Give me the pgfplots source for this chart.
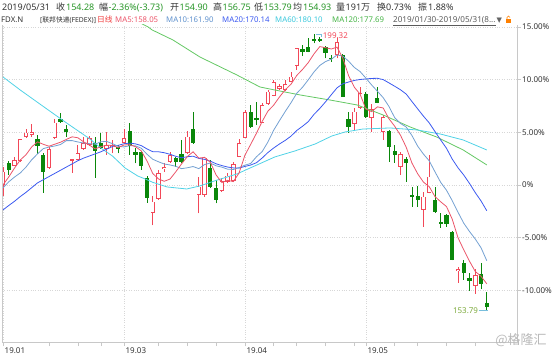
\documentclass[border=0pt]{standalone}
\usepackage{fontspec}
\setmainfont{Noto Sans}
\newfontfamily\cjk{Noto Sans CJK SC}
\newfontfamily\dvs{DejaVu Sans}
\usepackage{pgfplots}
\pgfplotsset{compat=1.18}
\usepackage{pgfplotstable}

\definecolor{gcan}{RGB}{10,135,10}
\definecolor{rcan}{RGB}{242,72,88}
\definecolor{ma5}{RGB}{235,85,105}
\definecolor{ma10}{RGB}{115,160,210}
\definecolor{ma20}{RGB}{60,90,240}
\definecolor{ma60}{RGB}{80,210,230}
\definecolor{ma120}{RGB}{100,200,100}
\definecolor{txt}{RGB}{51,51,51}
\definecolor{gtxt}{RGB}{40,150,40}
\definecolor{gridc}{RGB}{215,215,215}
\definecolor{axc}{RGB}{200,200,200}
\definecolor{lead}{RGB}{120,190,220}

% green (falling) candles: index open high low close (percent)
\pgfplotstableread{
x o h l c
1 2.087 2.277 0.949 1.423
6 4.364 4.744 2.941 3.729
7 2.846 3.036 -0.731 1.262
10 6.234 6.831 5.883 5.977
11 5.313 5.693 4.583 5.057
16 4.013 4.583 0.664 3.226
17 3.938 4.934 3.416 3.482
20 3.577 3.795 3.008 3.444
22 5.076 5.883 2.846 3.700
23 3.084 3.482 2.059 2.799
24 3.160 3.226 1.423 1.803
25 0.617 0.854 -1.679 -1.262
30 2.590 2.685 1.736 2.211
31 2.913 4.270 2.059 2.154
33 5.313 6.898 3.890 3.956
36 1.641 2.372 -0.285 -0.218
37 -0.313 0.474 -1.736 -1.423
43 6.898 7.590 5.408 5.532
44 6.385 7.847 5.693 6.167
52 12.904 13.283 12.268 12.591
53 13.122 13.919 12.572 12.648
54 13.852 14.298 13.444 13.691
55 13.852 14.071 13.596 13.729
56 13.122 13.188 12.021 12.496
57 12.078 12.334 11.699 11.955
59 12.334 12.429 8.349 8.378
60 6.234 6.955 4.962 5.532
63 8.634 8.852 6.357 6.423
65 8.226 9.270 7.733 7.809
67 5.152 5.218 2.211 3.634
68 3.254 3.795 2.087 2.846
70 2.438 2.685 0.285 2.116
71 -0.949 -0.161 -2.059 -1.139
72 -1.072 -0.095 -2.059 -1.452
75 -1.423 -0.161 -2.657 -2.590
76 -3.558 -2.685 -4.051 -3.653
77 -2.846 -2.752 -3.956 -3.700
78 -4.431 -4.364 -7.163 -7.116
80 -7.372 -7.116 -9.014 -8.321
81 -8.852 -8.378 -10.029 -9.080
83 -8.444 -7.372 -9.896 -9.393
84 -11.167 -10.181 -11.926 -11.547
}\gc

% red (rising) candles
\pgfplotstableread{
x o h l c
0 0.000 1.708 -1.044 1.262
2 1.831 2.685 1.803 2.372
3 2.306 4.364 2.182 4.336
4 4.583 5.313 4.459 4.962
5 4.744 5.788 4.554 5.029
8 1.584 3.634 1.518 3.416
9 4.431 6.234 4.364 5.911
12 2.325 2.500 1.167 2.467
13 2.372 3.795 2.350 3.008
14 3.416 4.554 3.321 3.956
15 3.795 4.649 3.700 4.459
18 3.416 5.057 2.846 3.795
19 3.577 4.270 3.008 3.795
21 3.956 5.285 3.890 4.431
26 -2.628 -1.044 -3.843 -1.584
27 -1.357 1.423 -1.423 1.110
28 1.471 2.059 1.262 1.679
29 2.182 3.160 2.087 2.846
32 3.008 5.124 2.941 4.583
34 -0.949 0.788 -2.685 -0.161
35 -0.949 2.685 -1.110 2.590
38 -0.569 0.636 -0.664 0.380
39 0.313 1.110 0.161 0.882
40 0.380 2.211 0.285 1.964
41 2.685 4.364 2.657 3.956
42 4.488 7.116 4.459 6.898
45 5.911 7.780 5.883 7.590
46 7.685 9.014 7.590 8.852
47 8.473 9.962 8.397 9.744
48 9.108 9.554 9.014 9.393
49 9.014 9.962 8.919 9.554
50 9.801 10.750 9.725 10.275
51 11.319 13.027 10.911 12.970
58 12.334 13.947 12.021 13.539
61 5.788 7.277 5.218 6.955
62 7.277 9.270 7.211 8.700
64 6.328 7.685 5.057 7.182
66 5.057 6.642 4.270 6.423
69 1.736 3.160 0.949 2.941
73 -2.400 -0.636 -3.956 -1.110
74 -0.731 2.846 -0.788 0.788
79 -8.160 -7.809 -9.270 -7.998
82 -9.583 -7.998 -10.342 -8.539
}\rc

\pgfplotstableread{
x y
0 0.00
1 0.76
2 1.60
3 2.37
4 2.87
5 3.62
6 4.09
7 3.86
8 3.68
9 3.87
10 4.06
11 4.32
12 4.57
13 4.48
14 4.09
15 3.79
16 3.42
17 3.63
18 3.78
19 3.75
20 3.55
21 3.79
22 3.83
23 3.63
24 3.24
25 2.29
26 1.09
27 0.57
28 0.35
29 0.56
30 1.25
31 2.00
32 2.69
33 3.15
34 2.55
35 2.62
36 2.15
37 0.95
38 0.23
39 0.44
40 0.32
41 1.15
42 2.82
43 3.85
44 4.90
45 6.03
46 7.01
47 7.58
48 8.35
49 9.03
50 9.56
51 10.39
52 10.96
53 11.61
54 12.44
55 13.13
56 13.03
57 12.90
58 13.08
59 12.02
60 10.38
61 9.27
62 8.62
63 7.20
64 6.96
65 7.41
66 7.31
67 6.29
68 5.58
69 4.73
70 3.59
71 2.08
72 1.06
73 0.27
74 -0.16
75 -1.10
76 -1.60
77 -2.05
78 -3.25
79 -5.01
80 -6.16
81 -7.24
82 -8.21
83 -8.67
84 -9.38
}\mafive

\pgfplotstableread{
x y
0 -0.28
1 0.30
2 0.75
3 1.14
4 1.70
5 2.40
6 2.95
7 3.45
8 3.60
9 3.70
10 3.84
11 4.21
12 4.21
13 4.08
14 3.98
15 3.92
16 3.87
17 4.10
18 4.13
19 3.92
20 3.67
21 3.61
22 3.73
23 3.71
24 3.49
25 2.92
26 2.44
27 2.20
28 1.99
29 1.90
30 1.77
31 1.55
32 1.63
33 1.75
34 1.55
35 1.94
36 2.08
37 1.82
38 1.69
39 1.50
40 1.47
41 1.65
42 1.88
43 2.04
44 2.67
45 3.17
46 4.08
47 5.20
48 6.10
49 6.97
50 7.80
51 8.70
52 9.27
53 9.98
54 10.73
55 11.34
56 11.71
57 11.93
58 12.34
59 12.23
60 11.75
61 11.15
62 10.76
63 10.14
64 9.49
65 8.90
66 8.29
67 7.46
68 6.39
69 5.84
70 5.50
71 4.69
72 3.68
73 2.93
74 2.29
75 1.25
76 0.24
77 -0.50
78 -1.49
79 -2.59
80 -3.63
81 -4.42
82 -5.13
83 -5.96
84 -7.19
}\maten

\pgfplotstableread{
x y
0 -2.37
1 -1.95
2 -1.55
3 -1.10
4 -0.70
5 -0.25
6 0.20
7 0.50
8 0.80
9 1.10
10 1.40
11 1.70
12 2.00
13 2.30
14 2.55
15 2.75
16 2.95
17 3.15
18 3.40
19 3.65
20 3.76
21 3.91
22 3.97
23 3.90
24 3.74
25 3.42
26 3.16
27 3.15
28 3.06
29 2.91
30 2.72
31 2.58
32 2.68
33 2.73
34 2.52
35 2.43
36 2.26
37 2.01
38 1.84
39 1.70
40 1.62
41 1.60
42 1.76
43 1.89
44 2.11
45 2.56
46 3.08
47 3.51
48 3.89
49 4.23
50 4.63
51 5.17
52 5.57
53 6.01
54 6.70
55 7.26
56 7.89
57 8.56
58 9.22
59 9.60
60 9.77
61 9.92
62 10.01
63 10.06
64 10.11
65 10.12
66 10.00
67 9.69
68 9.37
69 9.04
70 8.63
71 7.92
72 7.22
73 6.53
74 5.89
75 5.07
76 4.26
77 3.48
78 2.45
79 1.63
80 0.94
81 0.14
82 -0.73
83 -1.52
84 -2.45
}\matwenty

\pgfplotstableread{
x y
0 10.25
3 9.01
7 7.45
11 5.90
15 4.40
17 3.50
19 2.75
21.2 1.61
23.4 0.85
25 0.50
26 0.25
28.5 -0.19
31.9 -0.38
34.2 -0.09
37.2 0.47
40.6 1.04
42.9 1.61
44.1 1.90
47.2 2.66
50.7 3.23
54.2 3.89
57.1 4.65
59.4 5.03
62.5 5.31
67.2 5.41
71.9 5.22
75.9 4.84
79.9 4.27
84 3.32
}\masixty

\pgfplotstableread{
x y
22 15.90
25.2 14.99
25.9 14.71
29.5 13.76
34.2 12.14
40.6 10.44
44.6 9.30
47.2 9.01
51.6 8.54
56.8 8.06
61.5 7.59
66 6.64
70.7 5.50
75.3 4.55
79.9 3.32
84 1.90
}\mahtw

\tikzset{
 h1/.style={anchor=base west, inner sep=0pt, font=\fontsize{9bp}{11bp}\selectfont},
 h2/.style={anchor=base west, inner sep=0pt, font=\fontsize{7.8bp}{9bp}\selectfont},
}
\pgfplotsset{
 candle/.style={forget plot, draw=none, mark=none, mark options={draw=none,fill=none},
   error bars/y explicit, error bars/error mark=none},
}

\begin{document}
\begin{tikzpicture}
\useasboundingbox (0,0) rectangle (554bp,355bp);
\begin{axis}[
  name=ax,
  at={(2bp,13bp)}, anchor=south west,
  scale only axis, width=515bp, height=317bp,
  xmin=-0.17, xmax=89.24, ymin=-14.90, ymax=15.18,
  axis line style={draw=none},
  clip mode=individual,
  xtick={0,21,42,63}, xticklabels={19.01,19.03,19.04,19.05},
  minor xtick={8,13,17,27,32,37,47,51,56,61,68,72,77,82},
  ytick={-10,-5,0,5,10,15},
  yticklabels={-10.00\%,-5.00\%,0\%,5.00\%,10.00\%,15.00\%},
  xtick pos=left, ytick pos=right, yticklabel pos=right,
  tick align=outside,
  major tick length=4bp, minor tick length=4bp,
  tick style={draw=axc, line width=0.6bp},
  xmajorgrids, ymajorgrids,
  major grid style={draw=gridc, dotted, line width=0.6bp},
  ticklabel style={font=\fontsize{8bp}{9bp}\selectfont, text=txt},
  xticklabel style={anchor=north west, inner sep=0pt, xshift=1.5bp, yshift=-1bp},
  yticklabel style={anchor=west, inner sep=0pt, xshift=1bp},
]
% green wicks and bodies
\addplot[candle, error bars/y dir=plus,
  error bars/error bar style={draw=gcan, line width=0.8bp}]
  table[x=x, y=l, y error expr=\thisrow{h}-\thisrow{l}] {\gc};
\addplot[candle, error bars/y dir=both,
  error bars/error bar style={draw=gcan, line width=4.2bp}]
  table[x=x, y expr=(\thisrow{o}+\thisrow{c})/2, y error expr=abs(\thisrow{o}-\thisrow{c})/2] {\gc};
% red wicks and hollow bodies
\addplot[candle, error bars/y dir=plus,
  error bars/error bar style={draw=rcan, line width=0.8bp}]
  table[x=x, y=l, y error expr=\thisrow{h}-\thisrow{l}] {\rc};
\addplot[candle, error bars/y dir=both,
  error bars/error bar style={draw=rcan, line width=4.4bp}]
  table[x=x, y expr=(\thisrow{o}+\thisrow{c})/2, y error expr=abs(\thisrow{o}-\thisrow{c})/2] {\rc};
\addplot[candle, error bars/y dir=both,
  error bars/error bar style={draw=white, line width=2.8bp}]
  table[x=x, y expr=(\thisrow{o}+\thisrow{c})/2, y error expr={max(abs(\thisrow{o}-\thisrow{c})/2-0.075,0)}] {\rc};
% moving averages
\addplot[ma120, line width=0.8bp, mark=none] table[x=x,y=y] {\mahtw};
\addplot[ma60, line width=0.8bp, mark=none] table[x=x,y=y] {\masixty};
\addplot[ma20, line width=0.8bp, mark=none] table[x=x,y=y] {\matwenty};
\addplot[ma10, line width=0.8bp, mark=none] table[x=x,y=y] {\maten};
\addplot[ma5, line width=0.8bp, mark=none] table[x=x,y=y] {\mafive};
% extreme labels
\draw[lead, line width=0.6bp] (axis cs:54.4,14.30) -- (axis cs:55.3,14.30) -- (axis cs:55.3,14.00);
\node[anchor=west, inner sep=0pt, text=rcan, font=\fontsize{8bp}{9bp}\selectfont] at (axis cs:55.5,14.15) {199.32};
\draw[lead, line width=0.6bp] (axis cs:82.6,-11.93) -- (axis cs:84.2,-11.93);
\node[anchor=east, inner sep=0.5bp, text={rgb,255:red,125;green,170;blue,60}, font=\fontsize{8bp}{9bp}\selectfont] at (axis cs:82.6,-11.93) {153.79};
\end{axis}
\draw[axc, line width=0.6bp] (ax.north west) -- (ax.south west) -- (ax.south east) -- (ax.north east);

% header row 1
\node[h1, text=txt] at (2bp,344bp) {2019/05/31};
\node[h1, text=txt] at (56bp,344bp) {\cjk 收};
\node[h1, text=gtxt] at (66bp,344bp) {154.28};
\node[h1, text=txt] at (99bp,344bp) {\cjk 幅};
\node[h1, text=gtxt] at (108.5bp,344bp) {-2.36\%(-3.73)};
\node[h1, text=txt] at (170bp,344bp) {\cjk 开};
\node[h1, text=gtxt] at (179.5bp,344bp) {154.90};
\node[h1, text=txt] at (213bp,344bp) {\cjk 高};
\node[h1, text=gtxt] at (222.5bp,344bp) {156.75};
\node[h1, text=txt] at (254bp,344bp) {\cjk 低};
\node[h1, text=gtxt] at (263.5bp,344bp) {153.79};
\node[h1, text=txt] at (293bp,344bp) {\cjk 均};
\node[h1, text=gtxt] at (303bp,344bp) {154.93};
\node[h1, text=txt] at (336bp,344bp) {\cjk 量};
\node[h1, text=txt] at (345.5bp,344bp) {191{\cjk 万}};
\node[h1, text=txt] at (377bp,344bp) {\cjk 换};
\node[h1, text=txt] at (386bp,344bp) {0.73\%};
\node[h1, text=txt] at (418bp,344bp) {\cjk 振};
\node[h1, text=txt] at (428bp,344bp) {1.88\%};
% header row 2
\node[h2, text=txt] at (1bp,332bp) {FDX.N};
\node[h2, text=txt, font=\fontsize{6.8bp}{8bp}\selectfont] at (40bp,332bp) {[{\cjk 联邦快递}(FEDEX)]};
\node[h2, text={rgb,255:red,240;green,60;blue,60}] at (97bp,332bp) {\cjk 日线};
\node[h2, text=ma5] at (115bp,332bp) {MA5:158.05};
\node[h2, text={rgb,255:red,95;green,145;blue,205}] at (166bp,332bp) {MA10:161.90};
\node[h2, text=ma20] at (222bp,332bp) {MA20:170.14};
\node[h2, text={rgb,255:red,60;green,200;blue,220}] at (275bp,332bp) {MA60:180.10};
\node[h2, text={rgb,255:red,70;green,180;blue,70}] at (332bp,332bp) {MA120:177.69};
\node[h2, text={rgb,255:red,90;green,90;blue,90}, font=\fontsize{8.1bp}{9bp}\selectfont] at (393bp,332bp) {\underline{2019/01/30-2019/05/31(8...}};
\node[h2, text={rgb,255:red,100;green,100;blue,100}, font=\dvs\fontsize{7bp}{8bp}\selectfont] at (496.5bp,332bp) {▼};
\fill[orange] (506bp,332bp) rectangle (511bp,336bp);
\draw[orange, line width=0.6bp] (507bp,336bp) -- (507bp,337.5bp) arc (180:0:1.5bp);
% watermark
\node[anchor=center, inner sep=0pt, text={rgb,255:red,185;green,185;blue,185}, font=\cjk\fontsize{13bp}{14bp}\selectfont] at (521bp,15bp) {@格隆汇};
\end{tikzpicture}
\end{document}
